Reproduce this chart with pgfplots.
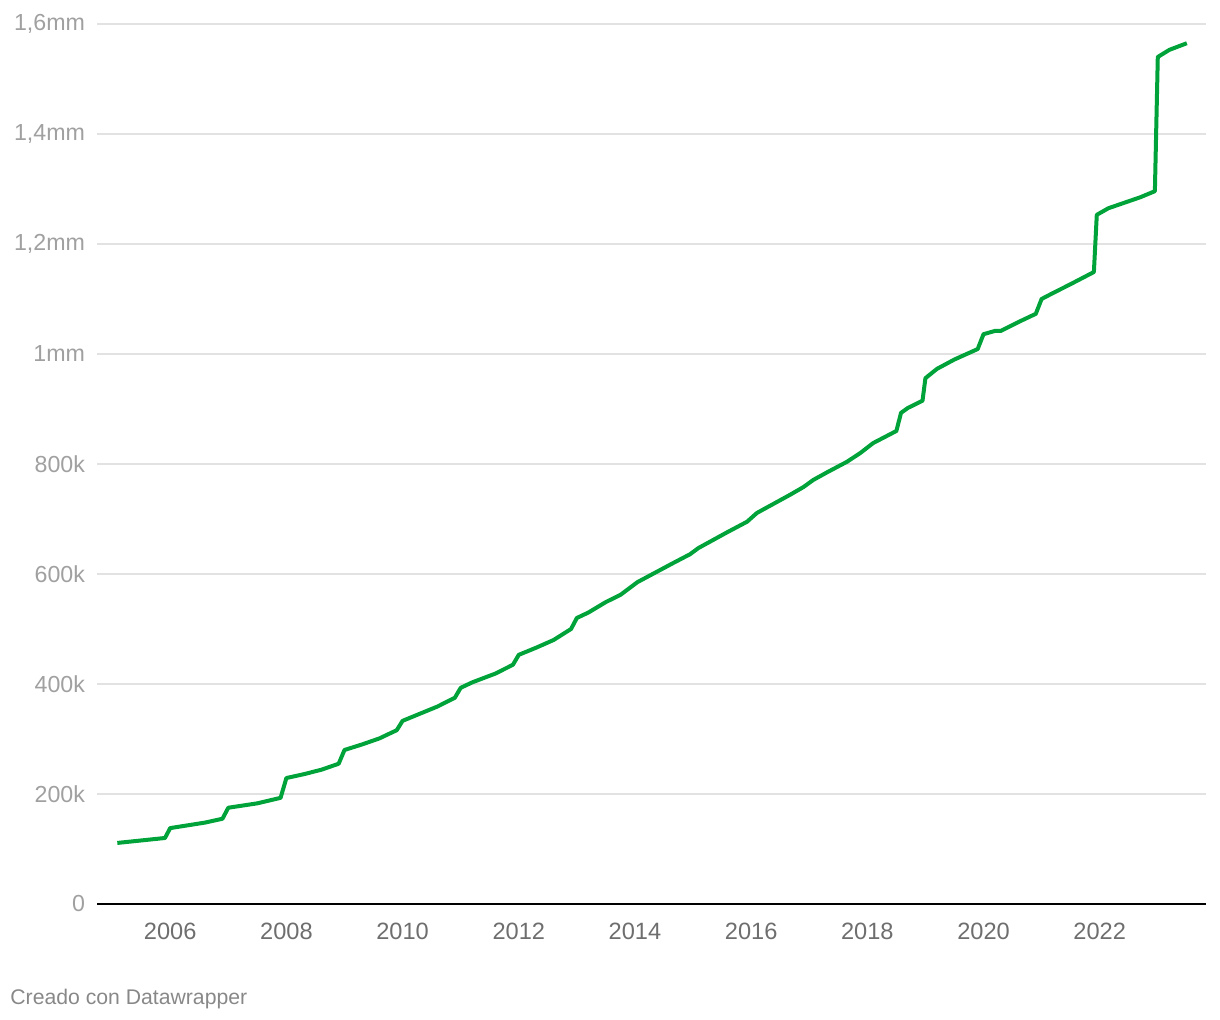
\documentclass[border=0pt]{standalone}
\usepackage{pgfplots}
\pgfplotsset{compat=1.18}
\usepackage{fontspec}
\setmainfont{Liberation Sans}
\definecolor{linegreen}{RGB}{0,163,57}
\definecolor{gridgray}{RGB}{226,226,226}
\definecolor{ylab}{RGB}{160,160,160}
\definecolor{xlab}{RGB}{110,110,110}
\definecolor{credit}{RGB}{136,136,136}
\begin{document}
\begin{tikzpicture}
\begin{axis}[
  scale only axis,
  width=554.5pt, height=440pt,
  xmin=2004.74, xmax=2023.83,
  ymin=0, ymax=1600,
  xtick={2006,2008,...,2022},
  xticklabel style={/pgf/number format/1000 sep={}, font=\fontsize{11.8}{14}\selectfont, text=xlab},
  xticklabel={\pgfmathprintnumber[1000 sep={},fixed,precision=0]{\tick}},
  ytick={0,200,...,1600},
  yticklabels={0,200k,400k,600k,800k,1mm,{1,2mm},{1,4mm},{1,6mm}},
  yticklabel style={font=\fontsize{11.6}{14}\selectfont, text=ylab, anchor=east},
  /pgf/number format/assume math mode=true,
  axis x line=bottom,
  axis y line=left,
  y axis line style={draw=none},
  x axis line style={draw=black, line width=1pt, -},
  major tick length=0pt,
  ymajorgrids,
  grid style={gridgray, line width=0.6pt},
  xticklabel shift=6pt,
  yticklabel shift=2.5pt,
  clip=false,
]
\addplot[linegreen, line width=2pt, line join=round] coordinates {
(2005.09,111) (2005.91,120) (2006.0,138) (2006.3,143) (2006.6,148) (2006.9,155)
(2007.0,175) (2007.5,183) (2007.9,193)
(2008.0,229) (2008.3,236) (2008.6,244) (2008.9,255)
(2009.0,280) (2009.3,290) (2009.6,301) (2009.9,316)
(2010.0,333) (2010.3,346) (2010.6,359) (2010.9,375)
(2011.0,393) (2011.2,403) (2011.6,419) (2011.9,435)
(2012.0,453) (2012.3,466) (2012.6,480) (2012.9,500)
(2013.0,520) (2013.2,530) (2013.5,549) (2013.75,562)
(2014.04,585) (2014.66,620) (2014.95,636)
(2015.09,647) (2015.59,676) (2015.93,695)
(2016.10,711) (2016.67,744) (2016.90,758)
(2017.07,771) (2017.31,785) (2017.65,804) (2017.88,820)
(2018.10,838) (2018.50,860) (2018.58,893) (2018.70,902) (2018.95,915)
(2019.0,956) (2019.2,973) (2019.5,990) (2019.9,1009)
(2020.0,1036) (2020.2,1042) (2020.3,1042) (2020.6,1058) (2020.9,1073)
(2021.0,1100) (2021.2,1111) (2021.5,1127) (2021.9,1149)
(2021.95,1253) (2022.15,1265) (2022.7,1285) (2022.95,1296)
(2023.0,1540) (2023.2,1553) (2023.5,1565)
};
\coordinate (SW) at (rel axis cs:0,0);
\coordinate (NE) at (rel axis cs:1,1);
\end{axis}
\path[use as bounding box] ([shift={(-48.5pt,-58pt)}]SW) rectangle ([shift={(7pt,12pt)}]NE);
\node[anchor=base west, inner sep=0pt, text=credit, font=\fontsize{10.6}{12}\selectfont] at ([shift={(-43.5pt,-50.5pt)}]SW) {Creado con Datawrapper};
\end{tikzpicture}
\end{document}
